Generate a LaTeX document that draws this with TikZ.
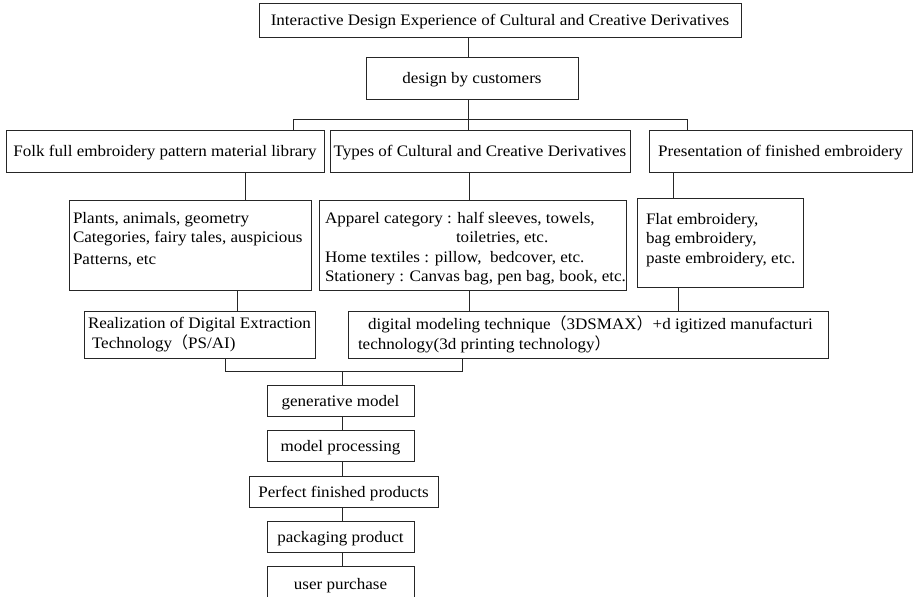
\documentclass[tikz,border=0pt]{standalone}
\usepackage{fontspec}
\setmainfont{Liberation Serif}[FakeStretch=1.065]
\newfontfamily\cjkfont{Noto Sans CJK SC}
\newcommand\myfs{\fontsize{16}{19.5}\selectfont}
\newcommand\fwl{{\cjkfont （}}
\newcommand\fwr{{\cjkfont ）}}
\begin{document}
\begin{tikzpicture}[x=1pt,y=-1pt,
  box/.style={draw=black!85, line width=1pt, inner sep=0pt, font=\myfs, text=black},
  one/.style={box, text height=11.5pt, text depth=0.5pt},
  conn/.style={draw=black!85, line width=1pt}]
\useasboundingbox (0,0) rectangle (914,597);
\clip (0,0) rectangle (914,597);
\fill[white] (0,0) rectangle (914,597);
% top levels
\node[one, minimum width=482pt, minimum height=34pt] (top) at (500,20)
  {Interactive Design Experience of Cultural and Creative Derivatives};
\node[one, minimum width=212pt, minimum height=42pt] (design) at (472,78)
  {design by customers};
\node[one, minimum width=318pt, minimum height=42pt] (folk) at (165,151)
  {Folk full embroidery pattern material library};
\node[one, minimum width=300pt, minimum height=42pt] (types) at (480,151)
  {Types of Cultural and Creative Derivatives};
\node[one, minimum width=263pt, minimum height=42pt] (pres) at (780.5,151)
  {Presentation of finished embroidery};
% detail boxes
\node[box, minimum width=242pt, minimum height=90pt] (plants) at (190,245)
  {\parbox[c][66pt][t]{234pt}{\raggedright
   \mbox{Plants, animals, geometry}\\
   \mbox{Categories, fairy tales, auspicious}\\[2pt]
   \mbox{Patterns, etc}}};
\node[box, minimum width=307pt, minimum height=90pt] (apparel) at (472.5,245)
  {\parbox[c][66pt][t]{295pt}{\raggedright
   \mbox{Apparel category : half sleeves, towels,}\\
   \mbox{\hspace*{131pt}toiletries, etc.}\\
   \mbox{Home textiles : pillow,\ \ bedcover, etc.}\\
   \mbox{Stationery : Canvas bag, pen bag, book, etc.}}};
\node[box, minimum width=166pt, minimum height=89pt] (flat) at (720,242.5)
  {\parbox[c][59pt][t]{148pt}{\raggedright
   \mbox{Flat embroidery,}\\
   \mbox{bag embroidery,}\\
   \mbox{paste embroidery, etc.}}};
\node[box, minimum width=231pt, minimum height=47pt] (real) at (199.5,334.5)
  {\parbox[c]{223pt}{\raggedright
   \mbox{Realization of Digital Extraction}\\
   \mbox{\hspace*{4pt}Technology\fwl PS/AI)}}};
\node[box, minimum width=480pt, minimum height=47pt] (digital) at (588,334.5)
  {\parbox[c]{460pt}{\raggedright
   \mbox{\hspace*{10pt}digital modeling technique\fwl 3DSMAX\fwr +d igitized manufacturi}\\
   \mbox{technology(3d printing technology\fwr}}};
% bottom chain
\node[one, minimum width=147pt, minimum height=31pt] (gen) at (340.5,400.5) {generative model};
\node[one, minimum width=147pt, minimum height=31pt] (proc) at (340.5,445.5) {model processing};
\node[one, minimum width=189pt, minimum height=31pt] (perf) at (343.5,491.5) {Perfect finished products};
\node[one, minimum width=147pt, minimum height=31pt] (pack) at (340.5,536.5) {packaging product};
\node[one, minimum width=147pt, minimum height=36pt] (user) at (340.5,584) {user purchase};
% connectors
\coordinate (busL) at (293,119);
\coordinate (busR) at (687,119);
\coordinate (brL) at (225,371);
\coordinate (brR) at (462,371);
\coordinate (brM) at (342,371);
\draw[conn] (468,0 |- top.south) -- (468,0 |- design.north);
\draw[conn] (468,0 |- design.south) -- (468,0 |- types.north);
\draw[conn] (293,0 |- folk.north) -- (busL) -- (busR) -- (687,0 |- pres.north);
\draw[conn] (245,0 |- folk.south) -- (245,0 |- plants.north);
\draw[conn] (469,0 |- types.south) -- (469,0 |- apparel.north);
\draw[conn] (673,0 |- pres.south) -- (673,0 |- flat.north);
\draw[conn] (237,0 |- plants.south) -- (237,0 |- real.north);
\draw[conn] (469,0 |- apparel.south) -- (469,0 |- digital.north);
\draw[conn] (678,0 |- flat.south) -- (678,0 |- digital.north);
\draw[conn] (225,0 |- real.south) -- (brL) -- (brR) -- (462,0 |- digital.south);
\draw[conn] (brM) -- (342,0 |- gen.north);
\draw[conn] (342,0 |- gen.south) -- (342,0 |- proc.north);
\draw[conn] (342,0 |- proc.south) -- (342,0 |- perf.north);
\draw[conn] (342,0 |- perf.south) -- (342,0 |- pack.north);
\draw[conn] (342,0 |- pack.south) -- (342,0 |- user.north);
\end{tikzpicture}
\end{document}
